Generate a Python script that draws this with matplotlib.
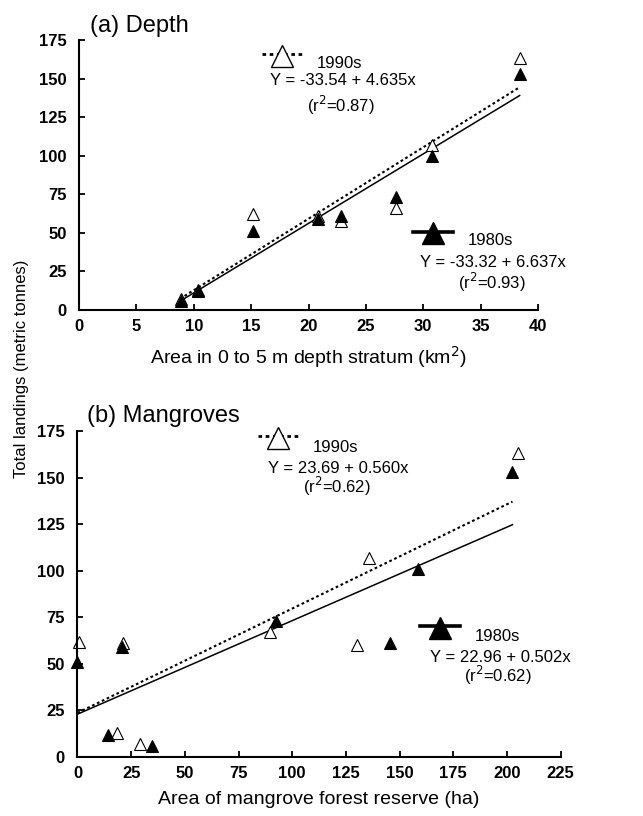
import matplotlib
matplotlib.use('Agg')
import matplotlib.pyplot as plt

plt.rcParams['font.family'] = ['Liberation Sans', 'DejaVu Sans']

# (a) depth stratum area (km2) vs total landings
depth_x = [8.9, 10.4, 15.2, 20.8, 22.8, 27.6, 30.8, 38.4]
depth_1990s = [7, 13, 62, 61, 58, 66, 107, 163]
depth_1980s = [6, 12, 51, 59, 61, 73, 100, 153]
depth_fit_x = [9.2, 38.4]
depth_fit_1990s = [9.1, 144.4]
depth_fit_1980s = [7.5, 139.0]

# (b) mangrove reserve area (ha) vs total landings
mang_x_1990s = [0.5, 18.5, 21.2, 29.0, 89.7, 130.0, 136.0, 205.4]
mang_1990s = [62, 13, 61, 7, 67, 60, 107, 163]
mang_x_1980s = [0.0, 14.0, 20.7, 34.8, 92.5, 145.5, 158.7, 202.6]
mang_1980s = [51, 12, 59, 6, 73, 61, 101, 153]
mang_fit_x = [0, 202.6]
mang_fit_1990s = [23.7, 137.1]
mang_fit_1980s = [23.0, 124.7]

labels_a = ['1990s', 'Y = -33.54 + 4.635x', '(r$^2$=0.87)',
            '1980s', 'Y = -33.32 + 6.637x', '(r$^2$=0.93)']
labels_b = ['1990s', 'Y = 23.69 + 0.560x', '(r$^2$=0.62)',
            '1980s', 'Y = 22.96 + 0.502x', '(r$^2$=0.62)']

DOT = (0, (1.3, 1.3))


def style(ax, xmax, xstep):
    for s in ['top', 'right']:
        ax.spines[s].set_visible(False)
    for s in ['left', 'bottom']:
        ax.spines[s].set_linewidth(1.5)
    ax.set_xlim(0, xmax)
    ax.set_ylim(0, 175)
    ax.set_xticks(range(0, xmax + 1, xstep))
    ax.set_yticks(range(0, 176, 25))
    ax.tick_params(axis='x', direction='in', length=4.5, width=1.3, labelsize=12, pad=6.5)
    ax.tick_params(axis='y', direction='in', length=4.5, width=1.3, labelsize=12, pad=9)
    for t in ax.get_xticklabels() + ax.get_yticklabels():
        t.set_fontweight('bold')


def legend_block(ax, pos90, pos80, xr):
    # legend symbol: big triangle on a short line
    lx, ly = pos90
    ax.plot([lx - xr, lx + xr], [ly + 1, ly + 1], color='black', lw=2, linestyle=DOT, clip_on=False)
    ax.plot(lx, ly, marker='^', ms=16, mfc='white', mec='black', mew=1, clip_on=False)
    lx, ly = pos80
    ax.plot([lx - xr, lx + xr], [ly + 1, ly + 1], color='black', lw=2.6, clip_on=False)
    ax.plot(lx, ly, marker='^', ms=16, mfc='black', mec='black', clip_on=False)


def scatter(ax, x90, y90, x80, y80):
    ax.plot(x90, y90, linestyle='none', marker='^', ms=9.3, mfc='white', mec='black', mew=0.8, clip_on=False)
    ax.plot(x80, y80, linestyle='none', marker='^', ms=9.3, mfc='black', mec='black', mew=0.8, clip_on=False)


fig = plt.figure(figsize=(6.43, 8.16), dpi=100)
fs = 12

# ---- panel (a)
ax1 = fig.add_axes([0.1229, 0.6201, 0.7138, 0.3309])
ax1.plot(depth_fit_x, depth_fit_1990s, color='black', lw=1.5, linestyle=DOT)
ax1.plot(depth_fit_x, depth_fit_1980s, color='black', lw=1.1)
scatter(ax1, depth_x, depth_1990s, depth_x, depth_1980s)
style(ax1, 40, 5)
legend_block(ax1, (17.7, 164.7), (30.85, 49.8), 1.75)
ax1.text(20.7, 156.6, labels_a[0], fontsize=fs, va='baseline', ha='left')
ax1.text(23.0, 145.8, labels_a[1], fontsize=fs, va='baseline', ha='center')
ax1.text(22.8, 128.5, labels_a[2], fontsize=fs, va='baseline', ha='center')
ax1.text(33.9, 41.9, labels_a[3], fontsize=fs, va='baseline', ha='left')
ax1.text(36.1, 27.7, labels_a[4], fontsize=fs, va='baseline', ha='center')
ax1.text(36.0, 13.7, labels_a[5], fontsize=fs, va='baseline', ha='center')
ax1.text(0.023, 1.031, '(a) Depth', transform=ax1.transAxes, fontsize=17, va='baseline')
ax1.set_xlabel('Area in 0 to 5 m depth stratum (km$^2$)', fontsize=14, va='top')
ax1.xaxis.set_label_coords(0.5, -0.127)

# ---- panel (b)
ax2 = fig.add_axes([0.1205, 0.0723, 0.7513, 0.3995])
ax2.plot(mang_fit_x, mang_fit_1990s, color='black', lw=1.5, linestyle=DOT)
ax2.plot(mang_fit_x, mang_fit_1980s, color='black', lw=1.1)
scatter(ax2, mang_x_1990s, mang_1990s, mang_x_1980s, mang_1980s)
style(ax2, 225, 25)
legend_block(ax2, (93.3, 171.1), (169.0, 69.5), 9.3)
ax2.text(109.8, 164.0, labels_b[0], fontsize=fs, va='baseline', ha='left')
ax2.text(121.5, 152.7, labels_b[1], fontsize=fs, va='baseline', ha='center')
ax2.text(120.7, 141.7, labels_b[2], fontsize=fs, va='baseline', ha='center')
ax2.text(185.0, 62.4, labels_b[3], fontsize=fs, va='baseline', ha='left')
ax2.text(196.8, 51.1, labels_b[4], fontsize=fs, va='baseline', ha='center')
ax2.text(196.0, 40.5, labels_b[5], fontsize=fs, va='baseline', ha='center')
ax2.text(0.019, 1.0285, '(b) Mangroves', transform=ax2.transAxes, fontsize=17, va='baseline')
ax2.set_xlabel('Area of mangrove forest reserve (ha)', fontsize=14, va='top')
ax2.xaxis.set_label_coords(0.5, -0.104)

fig.text(0.033, 0.548, 'Total landings (metric tonnes)', rotation=90, fontsize=12,
         ha='center', va='center')

fig.savefig('out.png', dpi=100)
